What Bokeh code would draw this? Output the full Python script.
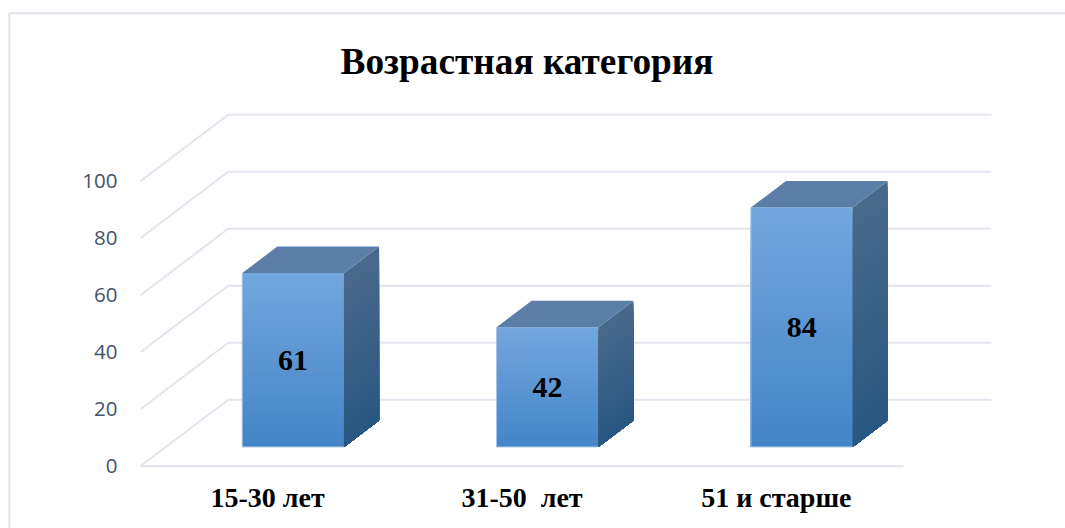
from bokeh.plotting import figure
from bokeh.models import Range1d, FixedTicker
from bokeh.core.properties import value
from bokeh.embed import file_html
from bokeh.resources import INLINE

title = "Возрастная категория"
categories = ["15-30 лет", "31-50\u00a0 лет", "51 и старше"]
values = [61, 42, 84]
y_ticks = [0, 20, 40, 60, 80, 100]

GRID = "#E2E5ED"
SERIF = "Liberation Serif"

# layout, in figure pixels
W, H = 1065, 528
L, R, T, B = 140, 65, 100, 58
PX_X = 254.33          # pixels per category
PX_Y = 2.85            # pixels per value unit
Y0_PX = 465.7          # figure pixel of value 0 on the front edge
DX = 87.7 / PX_X       # shift of the far wall, in x units
DY = 66.4 / PX_Y       # shift of the far wall, in value units
Z0, Z1 = 0.29, 0.69    # depth span of each bar
BAR = 0.4              # bar width

fw, fh = W - L - R, H - T - B
x_range = Range1d(0, fw / PX_X)
y_start = -(T + fh - Y0_PX) / PX_Y
y_range = Range1d(y_start, y_start + fh / PX_Y)

p = figure(width=W, height=H, x_range=x_range, y_range=y_range,
           output_backend="svg", toolbar_location=None,
           min_border_left=L, min_border_right=R, min_border_top=T, min_border_bottom=B,
           background_fill_color="white", border_fill_color="white")
p.outline_line_color = None
p.xgrid.visible = False
p.ygrid.visible = False

p.title.text = title
p.title.text_font = SERIF
p.title.text_font_style = "bold"
p.title.text_font_size = "37.3px"
p.title.text_color = "#000000"
p.title.align = "left"
p.title.offset = 200
p.title.standoff = 38

xa = p.xaxis[0]
xa.ticker = FixedTicker(ticks=[i + 0.5 for i in range(len(categories))])
xa.major_label_overrides = {i + 0.5: c for i, c in enumerate(categories)}
xa.axis_line_color = None
xa.major_tick_line_color = None
xa.minor_tick_line_color = None
xa.major_label_text_font = SERIF
xa.major_label_text_font_style = "bold"
xa.major_label_text_font_size = "28px"
xa.major_label_text_color = "#000000"
xa.major_label_standoff = 5

ya = p.yaxis[0]
ya.ticker = FixedTicker(ticks=y_ticks)
ya.axis_line_color = None
ya.major_tick_line_color = None
ya.minor_tick_line_color = None
ya.major_label_text_font = "Open Sans"
ya.major_label_text_font_size = "20.5px"
ya.major_label_text_color = "#44546A"
ya.major_label_standoff = 17


def px(fx):
    return (fx - L) / PX_X


def py(fy):
    return (Y0_PX - fy) / PX_Y


# outer frame of the chart
p.line([px(8.8), px(8.8), px(W)], [py(H), py(12.8), py(12.8)],
       line_color="#DFE4EA", line_width=2, level="annotation")

# walls and floor
for t in y_ticks:
    p.line([0, DX, 3 + DX], [t, t + DY, t + DY], line_color=GRID, line_width=2)
p.line([0, 3], [0, 0], line_color=GRID, line_width=2)


def mix(a, b, f):
    return "#%02x%02x%02x" % tuple(round(a[i] + (b[i] - a[i]) * f) for i in range(3))


FRONT_T, FRONT_B = (115, 166, 222), (68, 133, 199)
SIDE_T, SIDE_B = (74, 106, 140), (40, 87, 129)
TOP = "#5A7EA8"
STRIPS = 48

for i, v in enumerate(values):
    x0 = i + 0.5 - BAR / 2 + Z0 * DX
    x1 = x0 + BAR
    base = Z0 * DY
    sx = (Z1 - Z0) * DX
    sy = (Z1 - Z0) * DY
    # each layer reaches down to the base, so the gradient has no seams
    for k in range(STRIPS - 1, -1, -1):
        t = base + v * (k + 1) / STRIPS
        f = 1 - (k + 0.5) / STRIPS
        c = mix(FRONT_T, FRONT_B, f)
        p.quad(left=[x0], right=[x1], bottom=[base], top=[t], fill_color=c, line_color=None)
        c = mix(SIDE_T, SIDE_B, f)
        p.patch([x1, x1 + sx, x1 + sx, x1], [base, base + sy, t + sy, t], fill_color=c, line_color=None)
    # top face
    p.patch([x0, x0 + sx, x1 + sx, x1],
            [base + v, base + v + sy, base + v + sy, base + v], fill_color=TOP, line_color=None)
    # thin pale edge of the front face
    p.line([x0, x0, x1], [base + v, base, base], line_color="#A9C6E8", line_width=1)
    # data label
    p.text([i + 0.5 + Z0 * DX], [base + v / 2], text=[str(v)],
           text_font=value(SERIF), text_font_style="bold", text_font_size="30px",
           text_color="#000000", text_align="center", text_baseline="middle")

open("out.html", "w").write(file_html(p, INLINE))
